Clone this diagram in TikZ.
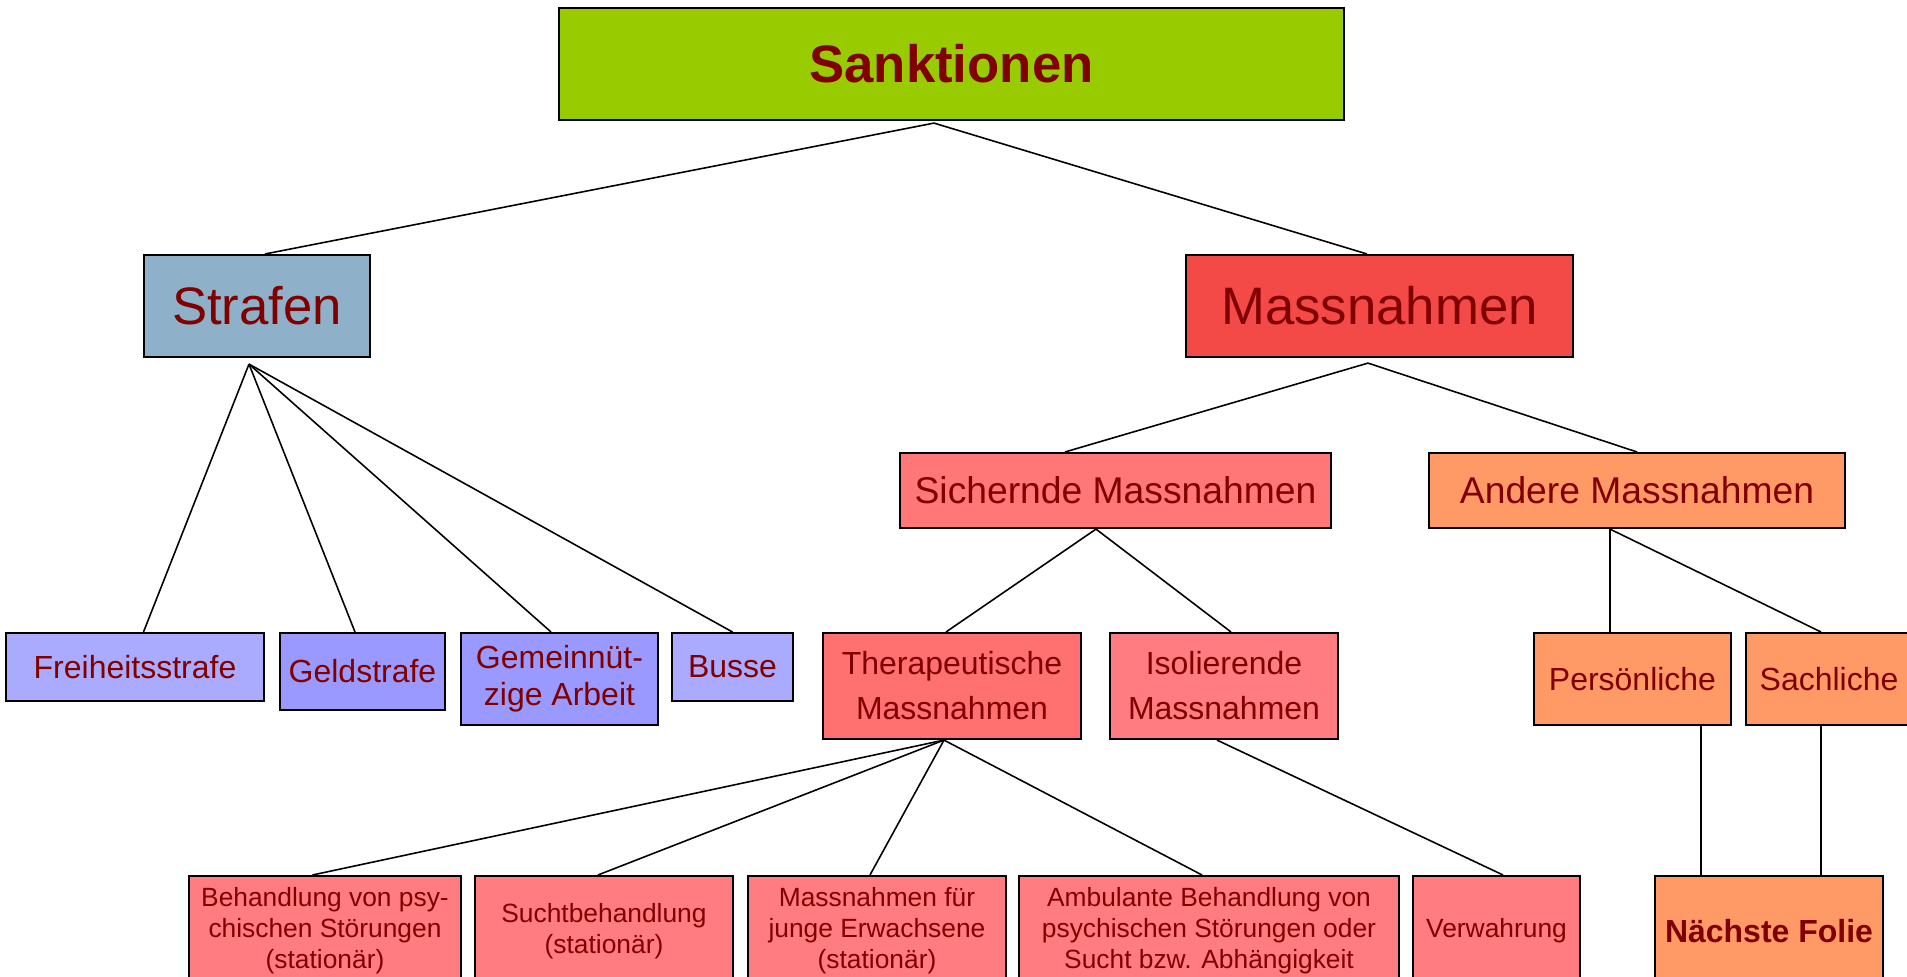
\documentclass[tikz,border=0pt]{standalone}
\usepackage{fontspec}
\setmainfont{Liberation Sans}
\usepackage{tikz}
\usepackage{xcolor}
\definecolor{txtRed}{HTML}{800000}
\definecolor{topGreen}{HTML}{99CC00}
\definecolor{strafBlue}{HTML}{8FB0C9}
\definecolor{massRed}{HTML}{F44A47}
\definecolor{sichRed}{HTML}{FF7777}
\definecolor{theraRed}{HTML}{FF7070}
\definecolor{lightRed}{HTML}{FF7C80}
\definecolor{orangeBox}{HTML}{FF9966}
\definecolor{violetA}{HTML}{AAAAFF}
\definecolor{violetB}{HTML}{9999FF}
\tikzset{mybox/.style={draw, line width=0.6pt, inner sep=0pt, align=center, text=txtRed, anchor=north}}
\tikzset{myboxTop/.style={mybox, fill=topGreen, font=\bfseries\fontsize{15}{18}\selectfont}}
\tikzset{myboxBig/.style={mybox, font=\fontsize{15}{18}\selectfont}}
\tikzset{myboxMid/.style={mybox, minimum height=0.75cm, font=\fontsize{10.6}{12.7}\selectfont}}
\tikzset{myboxSml/.style={mybox, font=\fontsize{9.1}{10.6}\selectfont}}
\tikzset{myboxLow/.style={mybox, fill=lightRed, minimum height=1.1cm, font=\fontsize{7.5}{8.8}\selectfont}}
\tikzset{link/.style={line width=0.45pt}}

\begin{document}
\begin{tikzpicture}[y=-1cm]

\useasboundingbox (0,0) rectangle (19.07,9.77);
\clip (0,0) rectangle (19.07,9.77);

\node[myboxTop, minimum width=7.85cm, minimum height=1.12cm] (sank) at (9.515, 0.07) {Sanktionen};

\node[myboxBig, fill=strafBlue, minimum width=2.26cm, minimum height=1.02cm] (straf) at (2.57, 2.54) {Strafen};
\node[myboxBig, fill=massRed, minimum width=3.87cm, minimum height=1.02cm] (mass) at (13.795, 2.54) {Massnahmen};

\node[myboxMid, fill=sichRed, minimum width=4.31cm] (sich) at (11.155, 4.52) {Sichernde Massnahmen};
\node[myboxMid, fill=orangeBox, minimum width=4.16cm] (andere) at (16.37, 4.52) {Andere Massnahmen};

\node[myboxSml, fill=violetA, minimum width=2.58cm, minimum height=0.68cm] (frei) at (1.35, 6.32) {Freiheitsstrafe};
\node[myboxSml, fill=violetB, minimum width=1.65cm, minimum height=0.77cm] (geld) at (3.625, 6.32) {Geldstrafe};
\node[myboxSml, fill=violetB, minimum width=1.97cm, minimum height=0.92cm, font=\fontsize{9.1}{10.5}\selectfont] (gemein) at (5.595, 6.32) {Gemeinnüt-\\zige Arbeit};
\node[myboxSml, fill=violetA, minimum width=1.21cm, minimum height=0.68cm] (busse) at (7.325, 6.32) {Busse};

\node[myboxSml, fill=theraRed, minimum width=2.58cm, minimum height=1.06cm, font=\fontsize{9.1}{12.8}\selectfont] (thera) at (9.52, 6.32) {Therapeutische\\Massnahmen};
\node[myboxSml, fill=lightRed, minimum width=2.28cm, minimum height=1.06cm, font=\fontsize{9.1}{12.8}\selectfont] (iso) at (12.24, 6.32) {Isolierende\\Massnahmen};

\node[myboxSml, fill=orangeBox, minimum width=1.97cm, minimum height=0.92cm] (pers) at (16.325, 6.32) {Persönliche};
\node[myboxSml, fill=orangeBox, minimum width=1.66cm, minimum height=0.92cm] (sach) at (18.29, 6.32) {Sachliche};

\node[myboxLow, minimum width=2.72cm] (beh) at (3.25, 8.75) {Behandlung von psy-\\chischen Störungen\\(stationär)};
\node[myboxLow, minimum width=2.58cm] (sucht) at (6.04, 8.75) {Suchtbehandlung\\(stationär)};
\node[myboxLow, minimum width=2.58cm] (junge) at (8.77, 8.75) {Massnahmen für\\junge Erwachsene\\(stationär)};
\node[myboxLow, minimum width=3.80cm] (ambu) at (12.09, 8.75) {Ambulante Behandlung von\\psychischen Störungen oder\\Sucht bzw. Abhängigkeit};
\node[myboxLow, minimum width=1.67cm] (verw) at (14.965, 8.75) {Verwahrung};
\node[myboxSml, fill=orangeBox, minimum width=2.28cm, minimum height=1.1cm, font=\bfseries\fontsize{9.1}{10.6}\selectfont] (folie) at (17.69, 8.75) {Nächste Folie};

% Sanktionen
\draw[link] ([xshift=-1.75mm, yshift=-0.2mm]sank.south) -- ([xshift=0.8mm]straf.north);
\draw[link] ([xshift=-1.75mm, yshift=-0.2mm]sank.south) -- ([xshift=-1.25mm]mass.north);

% Strafen
\draw[link] ([xshift=-0.8mm, yshift=-0.6mm]straf.south) -- ([xshift=0.85mm]frei.north);
\draw[link] ([xshift=-0.8mm, yshift=-0.6mm]straf.south) -- ([xshift=-0.75mm]geld.north);
\draw[link] ([xshift=-0.8mm, yshift=-0.6mm]straf.south) -- ([xshift=-0.85mm]gemein.north);
\draw[link] ([xshift=-0.8mm, yshift=-0.6mm]straf.south) -- (busse.north);

% Massnahmen
\draw[link] ([xshift=-1.15mm, yshift=-0.5mm]mass.south) -- ([xshift=-5.05mm]sich.north);
\draw[link] ([xshift=-1.15mm, yshift=-0.5mm]mass.south) -- (andere.north);

\draw[link] ([xshift=-1.95mm]sich.south) -- ([xshift=-0.6mm]thera.north);
\draw[link] ([xshift=-1.95mm]sich.south) -- ([xshift=0.7mm]iso.north);

\draw[link] ([xshift=-2.7mm]andere.south) -- ([xshift=-2.25mm]pers.north);
\draw[link] ([xshift=-2.7mm]andere.south) -- ([xshift=-0.8mm]sach.north);

\draw[link] ([xshift=-0.8mm]thera.south) -- ([xshift=-1.25mm]beh.north);
\draw[link] ([xshift=-0.8mm]thera.south) -- ([xshift=-0.6mm]sucht.north);
\draw[link] ([xshift=-0.8mm]thera.south) -- ([xshift=-0.7mm]junge.north);
\draw[link] ([xshift=-0.8mm]thera.south) -- ([xshift=-0.7mm]ambu.north);
\draw[link] ([xshift=-0.7mm]iso.south) -- ([xshift=0.65mm]verw.north);

\draw[link] ([xshift=6.85mm]pers.south) -- ([xshift=-6.8mm]folie.north);
\draw[link] ([xshift=-0.8mm]sach.south) -- ([xshift=5.2mm]folie.north);

\end{tikzpicture}
\end{document}
